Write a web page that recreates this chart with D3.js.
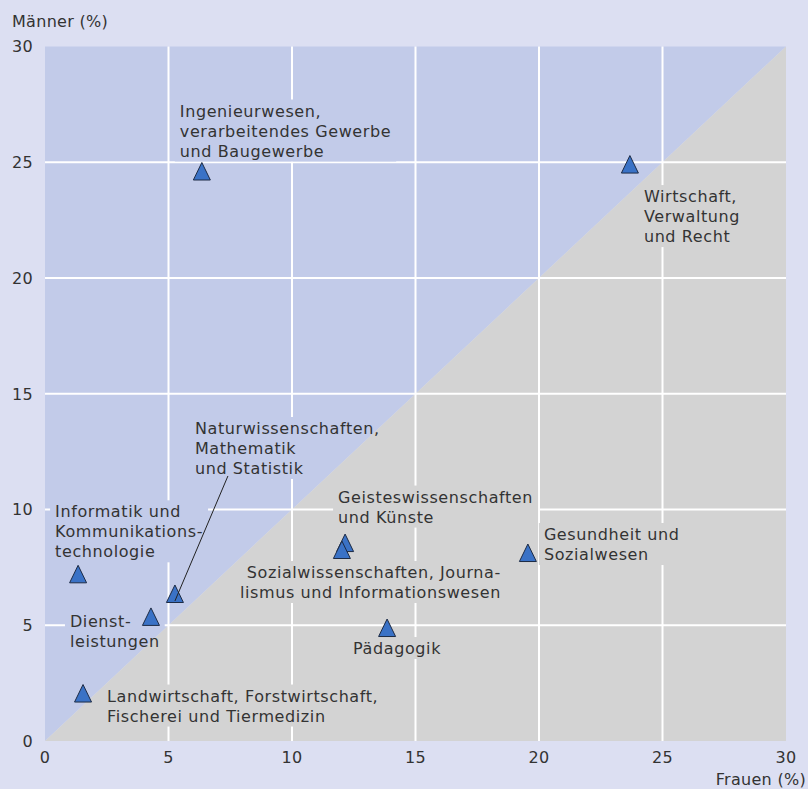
<!DOCTYPE html>
<html><head><meta charset="utf-8">
<script src="https://cdn.jsdelivr.net/npm/d3@7"></script>
<style>
html,body{margin:0;padding:0;background:#dcdff2;}
text{font-family:"DejaVu Sans",sans-serif;font-size:16px;fill:#333;letter-spacing:0.3px;}
text.lab{letter-spacing:0.6px;}
</style></head><body>
<svg id="c" width="808" height="789"></svg>
<script>
// ---- data ----
const categories = [
  "Ingenieurwesen, verarbeitendes Gewerbe und Baugewerbe",
  "Wirtschaft, Verwaltung und Recht",
  "Informatik und Kommunikationstechnologie",
  "Dienstleistungen",
  "Naturwissenschaften, Mathematik und Statistik",
  "Landwirtschaft, Forstwirtschaft, Fischerei und Tiermedizin",
  "Geisteswissenschaften und Künste",
  "Sozialwissenschaften, Journalismus und Informationswesen",
  "Pädagogik",
  "Gesundheit und Sozialwesen"
];
const frauen = [6.35, 23.68, 1.34, 4.29, 5.26, 1.54, 12.15, 12.02, 13.85, 19.55];
const maenner = [24.6, 24.9, 7.2, 5.36, 6.35, 2.05, 8.55, 8.25, 4.88, 8.12];
const labelLines = [
  ["Ingenieurwesen,", "verarbeitendes Gewerbe", "und Baugewerbe"],
  ["Wirtschaft,", "Verwaltung", "und Recht"],
  ["Informatik und", "Kommunikations-", "technologie"],
  ["Dienst-", "leistungen"],
  ["Naturwissenschaften,", "Mathematik", "und Statistik"],
  ["Landwirtschaft, Forstwirtschaft,", "Fischerei und Tiermedizin"],
  ["Geisteswissenschaften", "und Künste"],
  ["Sozialwissenschaften, Journa-", "lismus und Informationswesen"],
  ["Pädagogik"],
  ["Gesundheit und", "Sozialwesen"]
];
const xTicks = [0, 5, 10, 15, 20, 25, 30];
const yTicks = [0, 5, 10, 15, 20, 25, 30];
const xTitle = "Frauen (%)";
const yTitle = "Männer (%)";

// ---- layout (label anchor offsets in px relative to point) ----
const labelLayout = [
  {dx: -22, dy: -55, anchor: "start"},
  {dx: 14, dy: 37.5, anchor: "start"},
  {dx: -23, dy: -57, anchor: "start"},
  {dx: -81, dy: 10, anchor: "start"},
  {dx: 20, dy: -160, anchor: "start", leader: true},
  {dx: 24, dy: 8, anchor: "start"},
  {dx: -7, dy: -40.5, anchor: "start"},
  {dx: 159, dy: 28, anchor: "end"},
  {dx: -34, dy: 26, anchor: "start"},
  {dx: 16, dy: -13, anchor: "start"}
];
const lineH = 20;

const svg = d3.select("#c");
const W = 808, H = 789;
const m = {left: 45, right: 808 - 786, top: 46.5, bottom: 789 - 741};
const x = d3.scaleLinear().domain([0, 30]).range([m.left, W - m.right]);
const y = d3.scaleLinear().domain([0, 30]).range([H - m.bottom, m.top]);

svg.append("rect").attr("width", W).attr("height", H).attr("fill", "#dcdff2");

// regions
const line = d3.line().x(d => x(d[0])).y(d => y(d[1]));
svg.append("path").attr("d", line([[0,0],[0,30],[30,30]]) + "Z").attr("fill", "#c2cbe9");
svg.append("path").attr("d", line([[0,0],[30,0],[30,30]]) + "Z").attr("fill", "#d3d3d3");

// mask for gridlines
const defs = svg.append("defs");
const mask = defs.append("mask").attr("id", "gmask").attr("maskUnits", "userSpaceOnUse")
  .attr("x", 0).attr("y", 0).attr("width", W).attr("height", H);
mask.append("rect").attr("width", W).attr("height", H).attr("fill", "white");

const grid = svg.append("g").attr("mask", "url(#gmask)");
grid.selectAll("line.v").data(xTicks.filter(t => t > 0 && t < 30)).join("line")
  .attr("x1", d => x(d)).attr("x2", d => x(d)).attr("y1", y(0)).attr("y2", y(30))
  .attr("stroke", "#fff").attr("stroke-width", 2);
grid.selectAll("line.h").data(yTicks.filter(t => t > 0 && t < 30)).join("line")
  .attr("y1", d => y(d)).attr("y2", d => y(d)).attr("x1", x(0)).attr("x2", x(30))
  .attr("stroke", "#fff").attr("stroke-width", 2);

// points
const pts = frauen.map((f, i) => ({f, m: maenner[i], name: categories[i], lines: labelLines[i], lay: labelLayout[i]}));

// labels
const labG = svg.append("g");
const boxes = [];
pts.forEach(p => {
  const px = x(p.f), py = y(p.m);
  const t = labG.append("text").attr("class", "lab").attr("text-anchor", p.lay.anchor);
  p.lines.forEach((s, k) => {
    t.append("tspan").attr("x", px + p.lay.dx).attr("y", py + p.lay.dy + k * lineH).text(s);
  });
  const b = t.node().getBBox();
  boxes.push(b);
  p.bbox = b;
});
mask.selectAll("rect.b").data(boxes).join("rect")
  .attr("x", b => b.x - 5).attr("y", b => b.y - 2)
  .attr("width", b => b.width + 10).attr("height", b => b.height + 3)
  .attr("fill", "black");

const tri = "M0,-9L8.5,8.5L-8.5,8.5Z";
svg.append("g").selectAll("path").data(pts).join("path")
  .attr("d", tri)
  .attr("transform", d => `translate(${x(d.f)},${y(d.m)})`)
  .attr("fill", "#3a72c6").attr("stroke", "#1d2b45").attr("stroke-width", 1);

// leader line
pts.filter(p => p.lay.leader).forEach(p => {
  svg.append("line")
    .attr("x1", p.bbox.x + 33).attr("y1", p.bbox.y + p.bbox.height - 2)
    .attr("x2", x(p.f)).attr("y2", y(p.m) + 7)
    .attr("stroke", "#222").attr("stroke-width", 1);
});
labG.raise();

// axis tick labels
svg.append("g").selectAll("text").data(yTicks).join("text")
  .attr("x", 33).attr("y", d => y(d)).attr("dy", "0.36em").attr("text-anchor", "end")
  .text(d => d);
svg.append("g").selectAll("text").data(xTicks).join("text")
  .attr("x", d => x(d)).attr("y", 763).attr("text-anchor", "middle")
  .text(d => d);
svg.append("text").attr("x", 12).attr("y", 27).text(yTitle);
svg.append("text").attr("x", 806).attr("y", 785).attr("text-anchor", "end").text(xTitle);
</script>
</body></html>
